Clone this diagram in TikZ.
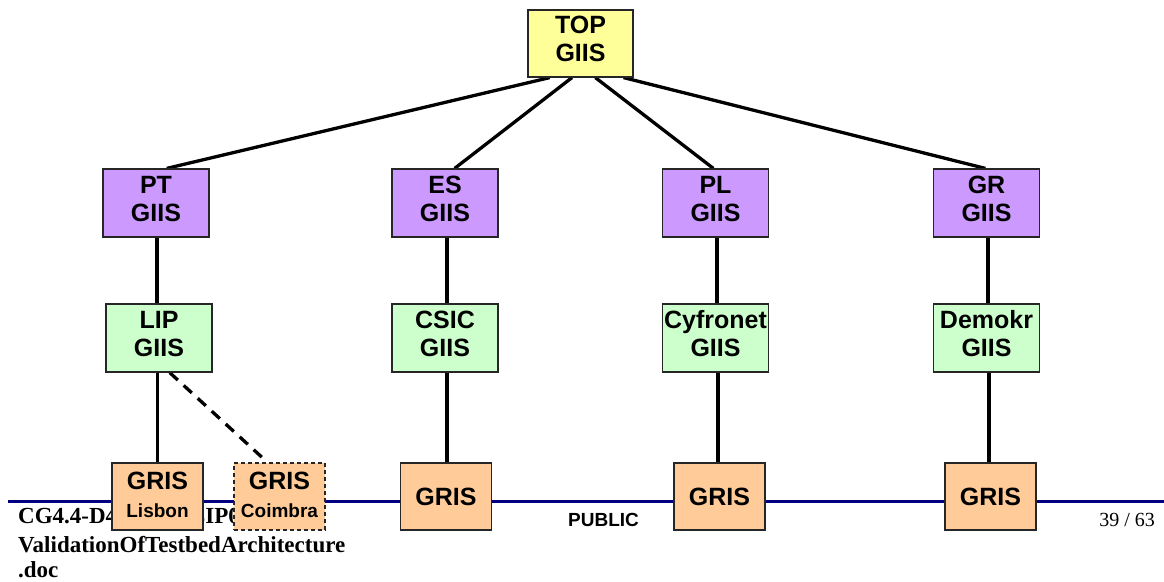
\documentclass[tikz,border=0pt]{standalone}
\usepackage{fontspec}
\setmainfont{Liberation Serif}
\setsansfont{Liberation Sans}
\usetikzlibrary{calc,backgrounds}
\definecolor{topfill}{HTML}{FFFF99}
\definecolor{natfill}{HTML}{CC99FF}
\definecolor{sitefill}{HTML}{CCFFCC}
\definecolor{grisfill}{HTML}{FFCC99}
\definecolor{barblue}{HTML}{000080}
\tikzset{
  box/.style={draw=black!85, line width=1.2pt, inner sep=0pt, align=center,
    font=\sffamily\bfseries\fontsize{25}{28}\selectfont,
    minimum width=106pt, minimum height=68pt, text height=46pt, text depth=10pt},
  topbox/.style={box, fill=topfill, minimum width=105pt, minimum height=67pt},
  natbox/.style={box, fill=natfill},
  sitebox/.style={box, fill=sitefill},
  grisbox/.style={box, fill=grisfill, minimum width=91pt, minimum height=67pt},
  grisone/.style={grisbox, text height=18pt, text depth=0pt},
  grissub/.style={grisbox, text height=45pt, text depth=3pt},
  link/.style={line width=3.3pt, black},
  dlink/.style={line width=3.3pt, black, dash pattern=on 11pt off 8pt},
  foot/.style={inner sep=0pt, anchor=base west, font=\bfseries\fontsize{23}{27}\selectfont},
}
\begin{document}
\begin{tikzpicture}[x=1pt,y=-1pt]
\useasboundingbox (0,0) rectangle (1164,581);
% footer
\node[foot] (f1) at (18,523) {CG4.4-D4.1-v1.0-LIP001-};
\node[foot] (f2) at (18,552) {ValidationOfTestbedArchitecture};
\node[foot] (f3) at (18,577) {.doc};
\coordinate (barL) at (8,501);
\coordinate (barR) at (1164,501);
\draw[barblue, line width=3pt] (barL) -- (barR);
\node[inner sep=0pt, anchor=base, font=\sffamily\bfseries\fontsize{19}{22}\selectfont] (pub) at (603.5,526) {PUBLIC};
\node[inner sep=0pt, anchor=base east, font=\fontsize{20}{24}\selectfont] (pg) at (1155,526) {39 / 63};
% boxes
\node[topbox] (top) at (580.5,43.5) {TOP\\GIIS};
\node[natbox] (pt) at (156,203) {PT\\GIIS};
\node[natbox] (es) at (445,203) {ES\\GIIS};
\node[natbox] (pl) at (715.5,203) {PL\\GIIS};
\node[natbox] (gr) at (986.5,203) {GR\\GIIS};
\node[sitebox] (lip) at (159,338) {LIP\\GIIS};
\node[sitebox] (csic) at (445,338) {CSIC\\GIIS};
\node[sitebox] (cyf) at (715.5,338) {Cyfronet\\GIIS};
\node[sitebox] (dem) at (986.5,338) {Demokr\\GIIS};
\node[grissub] (lis) at (157.5,496.5) {GRIS\\{\fontsize{19}{27}\selectfont Lisbon}};
\node[grissub, dash pattern=on 4pt off 3pt] (coi) at (279.5,496.5) {GRIS\\{\fontsize{19}{27}\selectfont Coimbra}};
\node[grisone] (g2) at (446,496.5) {GRIS};
\node[grisone] (g3) at (719.5,496.5) {GRIS};
\node[grisone] (g4) at (990.5,496.5) {GRIS};
% connectors (behind boxes)
\begin{scope}[on background layer]
\draw[link] ($(top.south west)!0.21!(top.south east)$) -- ($(pt.north west)!0.60!(pt.north east)$);
\draw[link] ($(top.south west)!0.42!(top.south east)$) -- ($(es.north west)!0.59!(es.north east)$);
\draw[link] ($(top.south west)!0.64!(top.south east)$) -- ($(pl.north west)!0.48!(pl.north east)$);
\draw[link] ($(top.south west)!0.905!(top.south east)$) -- ($(gr.north west)!0.49!(gr.north east)$);
\draw[link] ([xshift=1pt]pt.south) -- ([xshift=1pt]pt.south |- lip.north);
\draw[link] ([xshift=2pt]es.south) -- ([xshift=2pt]es.south |- csic.north);
\draw[link] ([xshift=1.5pt]pl.south) -- ([xshift=1.5pt]pl.south |- cyf.north);
\draw[link] ([xshift=1.5pt]gr.south) -- ([xshift=1.5pt]gr.south |- dem.north);
\draw[link] (lis.north |- lip.south) -- (lis.north);
\draw[link] ([xshift=2pt]csic.south) -- ([xshift=2pt]csic.south |- g2.north);
\draw[link] ([xshift=2.5pt]cyf.south) -- ([xshift=2.5pt]cyf.south |- g3.north);
\draw[link] ([xshift=2.5pt]dem.south) -- ([xshift=2.5pt]dem.south |- g4.north);
\draw[dlink] ($(lip.south west)!0.60!(lip.south east)$) -- ($(coi.north west)!0.37!(coi.north east)$);
\end{scope}
\end{tikzpicture}
\end{document}
